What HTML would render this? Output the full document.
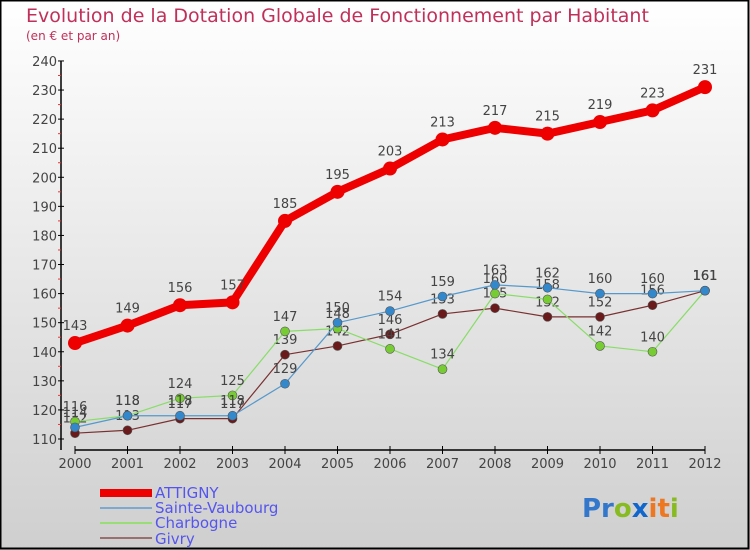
<!DOCTYPE html>
<html><head><meta charset="utf-8"><style>
body{margin:0}
svg{display:block;font-family:"DejaVu Sans","Liberation Sans",sans-serif}
</style></head><body>
<svg id="chart" width="750" height="550" viewBox="0 0 750 550" xmlns="http://www.w3.org/2000/svg">
<defs><linearGradient id="bg" x1="0" y1="0" x2="0" y2="1"><stop offset="0" stop-color="#ffffff"/><stop offset="1" stop-color="#cfcfcf"/></linearGradient></defs>
<rect x="0" y="0" width="750" height="550" fill="url(#bg)"/>
<rect x="0.5" y="0.5" width="748" height="548" fill="none" stroke="#000" stroke-width="2"/>
<text x="26" y="22" font-size="19" fill="#c0305a">Evolution de la Dotation Globale de Fonctionnement par Habitant</text>
<text x="26" y="40" font-size="12" fill="#c0305a">(en € et par an)</text>
<g id="axes"></g>
<g id="series"></g>
<g font-size="15" fill="#5555ee">
<rect x="100" y="489" width="52" height="8" fill="#ee0000"/>
<text x="155" y="498">ATTIGNY</text>
<rect x="100" y="507" width="52" height="2" fill="#7fa8d0"/>
<text x="155" y="513">Sainte-Vaubourg</text>
<rect x="100" y="522" width="52" height="2" fill="#99dd77"/>
<text x="155" y="528">Charbogne</text>
<rect x="100" y="537" width="52" height="2" fill="#997070"/>
<text x="155" y="544">Givry</text>
</g>
<g font-size="26" font-weight="bold">
<text x="582" y="517"><tspan fill="#3377cc">Pr</tspan><tspan fill="#88bb22">o</tspan><tspan fill="#1166cc">x</tspan><tspan fill="#ee7722">it</tspan><tspan fill="#88bb22">i</tspan></text>
</g>
</svg>
<script>
const years=[2000,2001,2002,2003,2004,2005,2006,2007,2008,2009,2010,2011,2012];
const yTicks=[110,120,130,140,150,160,170,180,190,200,210,220,230,240];
const attigny=[143,149,156,157,185,195,203,213,217,215,219,223,231];
const sainteVaubourg=[114,118,118,118,129,150,154,159,163,162,160,160,161];
const charbogne=[116,118,124,125,147,148,141,134,160,158,142,140,161];
const givry=[112,113,117,117,139,142,146,153,155,152,152,156,161];
const NS="http://www.w3.org/2000/svg";
const X=i=>75+i*52.5;
const Y=v=>439-(v-110)*2.908;
function mk(t,a,p){const e=document.createElementNS(NS,t);for(const k in a)e.setAttribute(k,a[k]);p.appendChild(e);return e;}
const ax=document.getElementById('axes');
let e=mk('line',{x1:61,y1:Y(240),x2:61,y2:450,stroke:'#000','stroke-width':1.5},ax);

e=mk('line',{x1:75,y1:450,x2:705,y2:450,stroke:'#000','stroke-width':1.5},ax);

yTicks.forEach((v,i)=>{
 mk('line',{x1:58,y1:Y(v),x2:64,y2:Y(v),stroke:'#000'},ax);
 if(i<yTicks.length-1) mk('line',{x1:58,y1:Y(v+5),x2:61,y2:Y(v+5),stroke:'#ee3333'},ax);
 const t=mk('text',{x:57,y:Y(v)+5,'text-anchor':'end','font-size':13,fill:'#444'},ax);
 t.textContent=v;
});
years.forEach((y,i)=>{
 mk('line',{x1:X(i),y1:446,x2:X(i),y2:454,stroke:'#000'},ax);
 const t=mk('text',{x:X(i),y:468,'text-anchor':'middle','font-size':13,fill:'#444'},ax);
 t.textContent=y;
});
const sg=document.getElementById('series');
function series(name,data,color,lw,r,dot){
 const g=mk('g',{},sg);
 
 
 const p=mk('polyline',{points:data.map((v,i)=>X(i)+','+Y(v)).join(' '),fill:'none',stroke:color,'stroke-width':lw,'stroke-linejoin':'round'},g);
 
 
 data.forEach((v,i)=>{
  const c=mk('circle',{cx:X(i),cy:Y(v),r:r,fill:dot,stroke:'#555','stroke-width':r>5?0:0.6},g);
  
  
  const t=mk('text',{x:X(i),y:Y(v)-(r+6),'text-anchor':'middle','font-size':13,fill:'#444'},g);
  
  
  t.textContent=v;
 });
}
series('givry',givry,'#7a3030',1.2,4.5,'#6a1a1a');
series('charbogne',charbogne,'#88dd66',1.2,4.5,'#77cc33');
series('sainte-vaubourg',sainteVaubourg,'#5599cc',1.2,4.5,'#3388cc');
series('attigny',attigny,'#ee0000',8,7,'#ee0000');
</script>
</body></html>
